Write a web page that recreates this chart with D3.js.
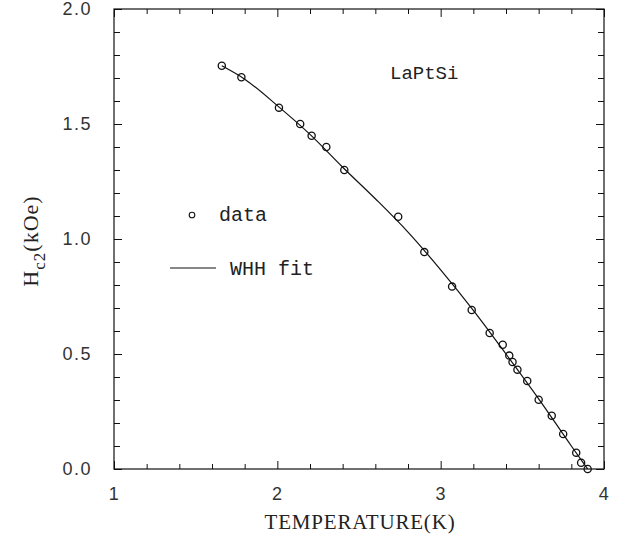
<!DOCTYPE html>
<html><head><meta charset="utf-8">
<script src="https://cdn.jsdelivr.net/npm/d3@7"></script>
<style>body{margin:0;background:#fff}svg{display:block}</style>
</head><body>
<script>
// Data
const tempData = [1.66,1.78,2.01,2.14,2.21,2.30,2.41,2.74,2.90,3.07,3.19,3.30,3.38,3.42,3.44,3.47,3.53,3.60,3.68,3.75,3.83,3.86,3.90];
const hc2Data  = [1.753,1.703,1.571,1.500,1.449,1.400,1.300,1.097,0.943,0.793,0.691,0.591,0.540,0.493,0.465,0.432,0.383,0.301,0.232,0.152,0.071,0.027,0.0];
const fitT = [1.66,1.8,2.0,2.2,2.4,2.6,2.8,3.0,3.2,3.4,3.6,3.8,3.9];
const fitH = [1.753,1.695,1.580,1.455,1.312,1.175,1.030,0.866,0.690,0.500,0.305,0.100,0.0];
const xTicks = [1,2,3,4];
const xTickLabels = ["1","2","3","4"];
const yTicks = [0,0.5,1.0,1.5,2.0];
const yTickLabels = ["0.0","0.5","1.0","1.5","2.0"];
const xMinor = [1.2,1.4,1.6,1.8,2.2,2.4,2.6,2.8,3.2,3.4,3.6,3.8];
const yMinor = [0.1,0.2,0.3,0.4,0.6,0.7,0.8,0.9,1.1,1.2,1.3,1.4,1.6,1.7,1.8,1.9];

const W=621,H=537;
const svg=d3.select("body").append("svg").attr("width",W).attr("height",H);
const x=d3.scaleLinear().domain([1,4]).range([114,604]);
const y=d3.scaleLinear().domain([0,2]).range([469,9]);

const axStyle = g => { g.select(".domain").remove(); g.selectAll("line").attr("stroke","#111").attr("stroke-width",1); };

// minor ticks
svg.append("g").attr("transform",`translate(0,${y(0)})`).call(d3.axisBottom(x).tickValues(xMinor).tickSize(-5).tickFormat("")).call(axStyle);
svg.append("g").attr("transform",`translate(0,${y(2)})`).call(d3.axisTop(x).tickValues(xMinor).tickSize(-5).tickFormat("")).call(axStyle);
svg.append("g").attr("transform",`translate(${x(1)},0)`).call(d3.axisLeft(y).tickValues(yMinor).tickSize(-6).tickFormat("")).call(axStyle);
svg.append("g").attr("transform",`translate(${x(4)},0)`).call(d3.axisRight(y).tickValues(yMinor).tickSize(-6).tickFormat("")).call(axStyle);
// major ticks
const tickFont = g => g.selectAll("text").attr("font-family","'Liberation Sans', Arial, sans-serif").attr("font-size",18).attr("fill","#333").attr("letter-spacing",1.5);
svg.append("g").attr("transform",`translate(0,${y(0)})`)
  .call(d3.axisBottom(x).tickValues(xTicks).tickSize(-8).tickPadding(18).tickFormat((d,i)=>xTickLabels[i]))
  .call(axStyle).call(tickFont);
svg.append("g").attr("transform",`translate(0,${y(2)})`).call(d3.axisTop(x).tickValues(xTicks).tickSize(-8).tickFormat("")).call(axStyle);
svg.append("g").attr("transform",`translate(${x(1)},0)`)
  .call(d3.axisLeft(y).tickValues(yTicks).tickSize(-8).tickPadding(22).tickFormat((d,i)=>yTickLabels[i]))
  .call(axStyle).call(tickFont);
svg.append("g").attr("transform",`translate(${x(4)},0)`).call(d3.axisRight(y).tickValues(yTicks).tickSize(-8).tickFormat("")).call(axStyle);

// frame
svg.append("rect").attr("x",x(1)).attr("y",y(2)).attr("width",x(4)-x(1)).attr("height",y(0)-y(2))
  .attr("fill","none").attr("stroke","#111").attr("stroke-width",1.2);

// fit line
const line=d3.line().x((d,i)=>x(fitT[i])).y((d,i)=>y(fitH[i])).curve(d3.curveMonotoneX);
svg.append("path").datum(fitT).attr("d",line).attr("fill","none").attr("stroke","#111").attr("stroke-width",1.2);

// data points
svg.append("g").selectAll("circle").data(tempData).join("circle")
  .attr("cx",d=>x(d)).attr("cy",(d,i)=>y(hc2Data[i])).attr("r",3.6)
  .attr("fill","none").attr("stroke","#111").attr("stroke-width",1.3);

// label
const mono="'Liberation Mono','Courier New',monospace";
svg.append("text").attr("x",390).attr("y",79).attr("font-family",mono).attr("font-size",19).attr("fill","#222").text("LaPtSi");

// legend
svg.append("circle").attr("cx",192).attr("cy",215).attr("r",2.8).attr("fill","none").attr("stroke","#111").attr("stroke-width",1.1);
svg.append("text").attr("x",219).attr("y",221).attr("font-family",mono).attr("font-size",20).attr("fill","#222").text("data");
svg.append("line").attr("x1",170).attr("x2",216).attr("y1",268).attr("y2",268).attr("stroke","#111").attr("stroke-width",1);
svg.append("text").attr("x",230).attr("y",275).attr("font-family",mono).attr("font-size",20).attr("fill","#222").text("WHH fit");

// axis titles
const serif="'Liberation Serif','Times New Roman',serif";
svg.append("text").attr("x",360).attr("y",529).attr("text-anchor","middle").attr("font-family",serif).attr("font-size",21).attr("letter-spacing",0.8).attr("fill","#222").text("TEMPERATURE(K)");
const yl=svg.append("text").attr("transform","translate(38,241) rotate(-90)").attr("text-anchor","middle").attr("font-family",serif).attr("font-size",22).attr("letter-spacing",1).attr("fill","#222");
yl.append("tspan").text("H");
yl.append("tspan").attr("dy",7).attr("font-size",17).text("c2");
yl.append("tspan").attr("dy",-7).text("(kOe)");
</script>
</body></html>
